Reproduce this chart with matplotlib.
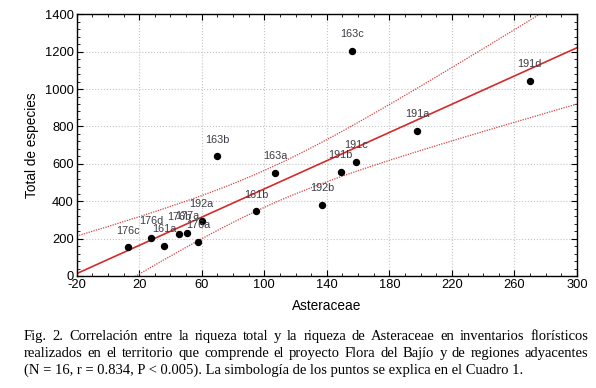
import matplotlib.pyplot as plt
import numpy as np

plt.rcParams['axes.unicode_minus'] = False

# data
labels = ['176c', '176d', '161a', '176b', '177a', '176a', '192a', '163b',
          '161b', '163a', '192b', '191b', '163c', '191c', '191a', '191d']
asteraceae = np.array([12.8, 27.7, 35.8, 45.6, 50.7, 57.8, 60.0, 69.7,
                       94.9, 106.8, 136.9, 148.9, 155.9, 158.9, 197.9, 269.7])
total = np.array([153, 203, 160, 226, 232, 182, 296, 640,
                  346, 553, 381, 558, 1206, 610, 777, 1043])
xticks = [-20, 20, 60, 100, 140, 180, 220, 260, 300]
yticks = [0, 200, 400, 600, 800, 1000, 1200, 1400]

caption_lines = [
    "Fig. 2. Correlación entre la riqueza total y la riqueza de Asteraceae en inventarios florísticos",
    "realizados en el territorio que comprende el proyecto Flora del Bajío y de regiones adyacentes",
    "(N = 16, r = 0.834, P < 0.005). La simbología de los puntos se explica en el Cuadro 1.",
]

# linear fit + 95% confidence band of the mean
n = len(asteraceae)
slope, icpt = np.polyfit(asteraceae, total, 1)
resid = total - (icpt + slope * asteraceae)
s = np.sqrt(np.sum(resid ** 2) / (n - 2))
xm = asteraceae.mean()
sxx = np.sum((asteraceae - xm) ** 2)
t = 2.145
xs = np.linspace(-20, 300, 200)
yfit = icpt + slope * xs
band = t * s * np.sqrt(1 / n + (xs - xm) ** 2 / sxx)

W, H = 596, 388
fig = plt.figure(figsize=(W / 100, H / 100), dpi=100)
ax = fig.add_axes([0.1287, 0.2887, 0.8393, 0.6745])

ax.plot(xs, yfit, color='#d42a2a', lw=1.2)
ax.plot(xs, yfit + band, color='#d84040', lw=0.9, ls=(0, (1, 1)))
ax.plot(xs, yfit - band, color='#d84040', lw=0.9, ls=(0, (1, 1)))
ax.plot(asteraceae, total, 'o', color='black', markersize=4.3)

for lab, x, y in zip(labels, asteraceae, total):
    ax.annotate(lab, (x, y), xytext=(0, 12), textcoords='offset points',
                ha='center', va='center', fontsize=7.8, color='#3c3c44',
                family='Liberation Sans')

ax.set_xlim(-20, 300)
ax.set_ylim(0, 1400)
ax.set_xticks(xticks)
ax.set_xticks(np.arange(-20, 301, 10), minor=True)
ax.set_yticks(yticks)
ax.set_yticks(np.arange(0, 1401, 40), minor=True)
ax.tick_params(which='both', direction='in', top=True, right=True,
               labelsize=9.3, pad=2)
ax.tick_params(which='major', length=4)
ax.tick_params(which='minor', length=2)
for lbl in ax.get_xticklabels() + ax.get_yticklabels():
    lbl.set_family('Liberation Sans')
ax.grid(True, which='major', color='#c4c4c4', ls=':', lw=0.8)
ax.set_axisbelow(True)
for sp in ax.spines.values():
    sp.set_linewidth(1.0)

ax.set_xlabel('Asteraceae', fontsize=9.8, family='Liberation Sans', labelpad=6)
ax.set_ylabel('Total de especies', fontsize=9.8, family='Liberation Sans', labelpad=4)

# caption: first two lines justified to the full width, last line left aligned
renderer = fig.canvas.get_renderer()
left, right = 24, 588
baselines = [340, 357, 374]
cap_kw = dict(fontsize=10.5, family='Liberation Serif', va='baseline', ha='left')
for i, line in enumerate(caption_lines):
    yb = 1 - baselines[i] / H
    if i == len(caption_lines) - 1:
        fig.text(left / W, yb, line, **cap_kw)
        continue
    words = line.split(' ')
    arts = [fig.text(0, yb, w, **cap_kw) for w in words]
    widths = [a.get_window_extent(renderer).width for a in arts]
    gap = (right - left - sum(widths)) / (len(words) - 1)
    x = left
    for a, w in zip(arts, widths):
        a.set_x(x / W)
        x += w + gap

fig.savefig('out.png', dpi=100)
